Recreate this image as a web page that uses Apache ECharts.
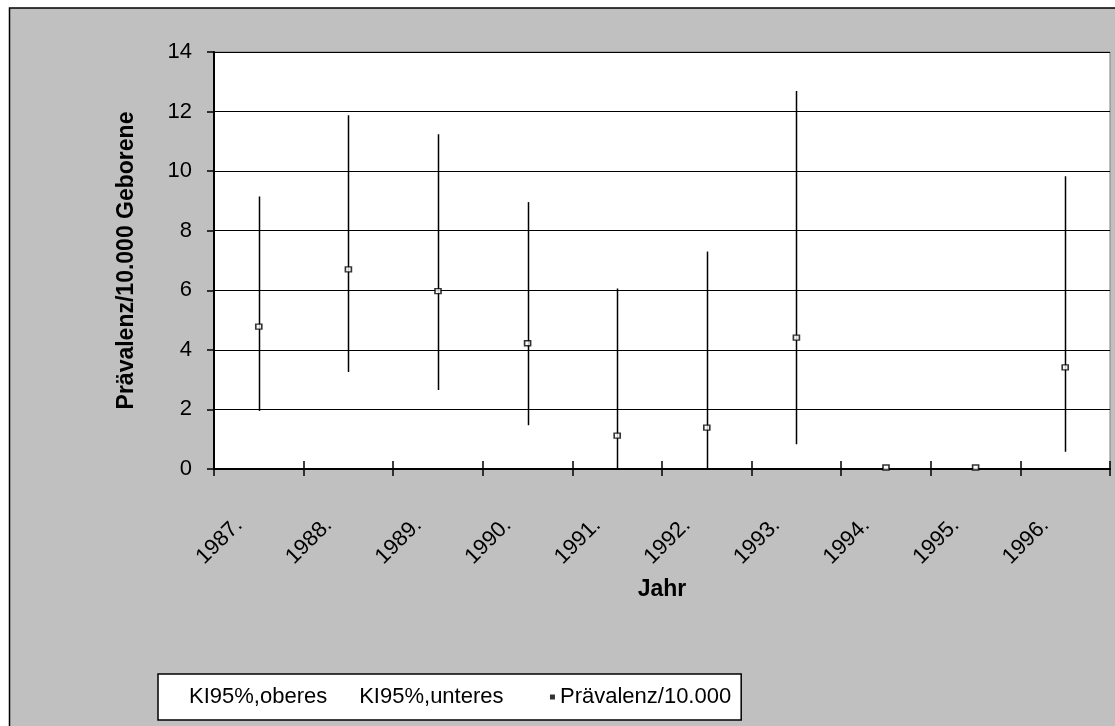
<!DOCTYPE html>
<html>
<head>
<meta charset="utf-8">
<script src="https://cdn.jsdelivr.net/npm/echarts@6/dist/echarts.min.js"></script>
<style>
html,body{margin:0;padding:0;background:#fff;}
#chart{width:1115px;height:726px;}
</style>
</head>
<body>
<div id="chart"></div>
<script>
const categories = ['1987.', '1988.', '1989.', '1990.', '1991.', '1992.', '1993.', '1994.', '1995.', '1996.'];
const upperCI = [9.15, 11.88, 11.24, 8.96, 6.06, 7.30, 12.69, 0, 0, 9.83];
const lowerCI = [1.95, 3.26, 2.65, 1.47, 0, 0, 0.83, 0, 0, 0.58];
const prevalence = [4.78, 6.70, 5.97, 4.22, 1.12, 1.39, 4.41, 0.05, 0.05, 3.41];
const yTicks = [0, 2, 4, 6, 8, 10, 12, 14];

const FONT = '"Liberation Sans", Arial, sans-serif';
const hlData = categories.map((c, i) => [i, lowerCI[i], upperCI[i]]);

const chart = echarts.init(document.getElementById('chart'), null, {renderer: 'canvas'});
chart.setOption({
  backgroundColor: '#fff',
  animation: false,
  textStyle: {fontFamily: FONT, color: '#000'},
  graphic: [{
    type: 'rect', z: -100, silent: true,
    shape: {x: 9.5, y: 8, width: 1200, height: 800},
    style: {fill: '#c0c0c0', stroke: '#000', lineWidth: 1.5}
  }],
  grid: {
    left: 214, right: 5, top: 52, bottom: 257,
    show: true, backgroundColor: '#fff', borderColor: '#808080', borderWidth: 1
  },
  legend: {
    left: 158, top: 674,
    data: [
      {name: 'KI95%,oberes', icon: 'none'},
      {name: 'KI95%,unteres', icon: 'none'},
      {name: 'Prävalenz/10.000', icon: 'rect', itemStyle: {color: '#000', borderWidth: 0}}
    ],
    formatter: function (name) {
      return name === 'KI95%,unteres' ? name + '    ' : name;
    },
    itemWidth: 5, itemHeight: 5, itemGap: 22,
    backgroundColor: '#fff', borderColor: '#000', borderWidth: 1.5,
    padding: [12, 10, 12, 21],
    borderRadius: 0,
    textStyle: {fontFamily: FONT, fontSize: 22, color: '#000'}
  },
  xAxis: [{
    type: 'category', data: categories, boundaryGap: true,
    position: 'bottom',
    axisLine: {lineStyle: {color: '#000', width: 2}},
    axisTick: {show: true, inside: false, length: 7, lineStyle: {color: '#000', width: 1.5}},
    axisLabel: {rotate: 45, interval: 0, fontSize: 22, color: '#000', margin: 33, padding: [0, 28, 0, 0], fontFamily: FONT},
    name: 'Jahr', nameLocation: 'middle', nameGap: 109,
    nameTextStyle: {fontSize: 23, fontWeight: 'bold', color: '#000', fontFamily: FONT},
    splitLine: {show: false}
  }, {
    type: 'category', data: categories, boundaryGap: true,
    position: 'bottom', offset: 0,
    axisLine: {show: false},
    axisTick: {show: true, inside: true, length: 8, lineStyle: {color: '#000', width: 1.5}},
    axisLabel: {show: false},
    splitLine: {show: false}
  }],
  yAxis: {
    type: 'value', min: yTicks[0], max: yTicks[yTicks.length - 1], interval: 2,
    axisLine: {show: true, lineStyle: {color: '#000', width: 2}},
    axisTick: {show: true, length: 7, lineStyle: {color: '#000', width: 1.5}},
    axisLabel: {fontSize: 22, color: '#000', margin: 22, fontFamily: FONT},
    splitLine: {show: true, lineStyle: {color: '#000', width: 1}},
    name: 'Prävalenz/10.000 Geborene', nameLocation: 'middle', nameGap: 76,
    nameTextStyle: {fontSize: 23, fontWeight: 'bold', color: '#000', fontFamily: FONT}
  },
  series: [
    {
      name: 'KI95%,oberes', type: 'line', data: upperCI, symbol: 'none',
      lineStyle: {opacity: 0}, itemStyle: {color: '#000'}, silent: true
    },
    {
      name: 'KI95%,unteres', type: 'line', data: lowerCI, symbol: 'none',
      lineStyle: {opacity: 0}, itemStyle: {color: '#000'}, silent: true
    },
    {
      name: 'hl', type: 'custom', data: hlData, z: 3,
      encode: {x: 0, y: [1, 2]},
      renderItem: function (params, api) {
        const p1 = api.coord([api.value(0), api.value(1)]);
        const p2 = api.coord([api.value(0), api.value(2)]);
        return {
          type: 'line',
          shape: {x1: Math.round(p1[0]) + 0.5, y1: p1[1], x2: Math.round(p2[0]) + 0.5, y2: p2[1]},
          style: {stroke: '#000', lineWidth: 1.5}
        };
      }
    },
    {
      name: 'Prävalenz/10.000', type: 'scatter', data: prevalence, z: 5,
      symbol: 'rect', symbolSize: [6, 5],
      itemStyle: {color: '#fff', borderColor: '#000', borderWidth: 1.5}
    }
  ]
});
</script>
</body>
</html>
